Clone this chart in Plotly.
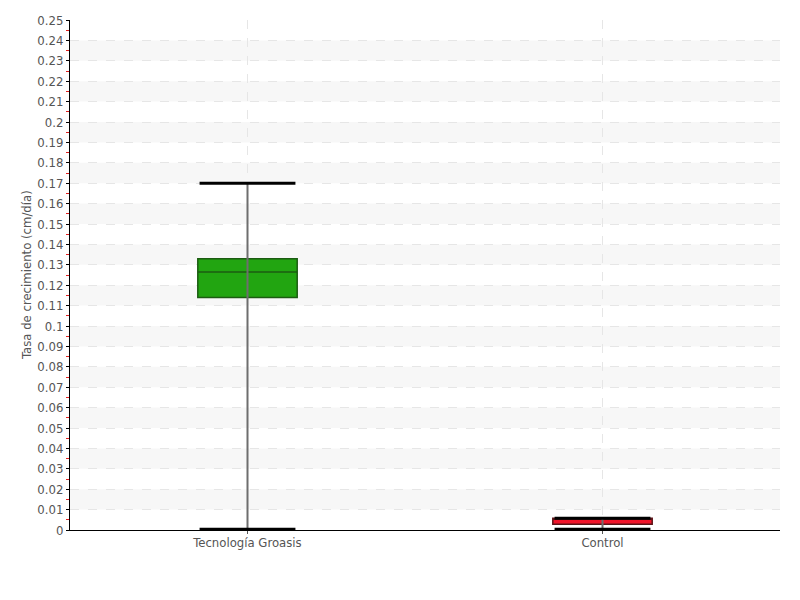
import plotly.graph_objects as go

categories = ["Tecnología Groasis", "Control"]
lower_fence = [0.0004, 0.0004]
q1 = [0.114, 0.0028]
median = [0.1265, 0.0058]
q3 = [0.133, 0.0058]
upper_fence = [0.17, 0.0058]
fill_colors = ["#22a511", "#f0142a"]
line_colors = ["#1c5c12", "#5c1418"]

y_ticks = [round(i * 0.01, 2) for i in range(0, 26)]
y_ticktext = ["0" if v == 0 else ("%g" % v) for v in y_ticks]

FONT = "DejaVu Sans Condensed, Liberation Sans Narrow, sans-serif"
TXT = "#555555"

fig = go.Figure()
xs = list(range(len(categories)))

# whisker stems
for i in xs:
    fig.add_trace(go.Scatter(
        x=[i, i], y=[lower_fence[i], upper_fence[i]], mode="lines",
        line=dict(color="#6e6e6e", width=2), showlegend=False, hoverinfo="skip"))

# caps (drawn beneath the boxes)
for i in xs:
    for v in (lower_fence[i], upper_fence[i]):
        fig.add_trace(go.Scatter(
            x=[i - 0.135, i + 0.135], y=[v, v], mode="lines",
            line=dict(color="black", width=3), showlegend=False, hoverinfo="skip"))

# boxes
for i in xs:
    fig.add_trace(go.Box(
        x=[i], q1=[q1[i]], median=[median[i]], q3=[q3[i]],
        lowerfence=[q1[i]], upperfence=[q3[i]],
        width=0.28, fillcolor=fill_colors[i],
        line=dict(color=line_colors[i], width=1.5),
        whiskerwidth=0, showlegend=False, name=categories[i]))

# alternating bands
for k in range(1, len(y_ticks) - 1, 2):
    fig.add_shape(type="rect", xref="paper", yref="y", x0=0, x1=1,
                  y0=y_ticks[k], y1=y_ticks[k + 1],
                  fillcolor="#f7f7f7", line=dict(width=0), layer="below")

fig.add_annotation(
    text="Tasa de crecimiento (cm/día)", textangle=-90,
    xref="paper", yref="paper", x=0, y=0.5, xanchor="center", yanchor="middle",
    xshift=-44, showarrow=False, font=dict(family=FONT, size=13, color=TXT))

fig.update_layout(
    width=800, height=600,
    margin=dict(l=62, r=28, t=12, b=78),
    paper_bgcolor="white", plot_bgcolor="white",
    font=dict(family=FONT, size=13, color=TXT),
    boxmode="overlay",
    xaxis=dict(
        range=[-0.5, 1.5], tickmode="array", tickvals=xs, ticktext=categories,
        showgrid=True, gridcolor="#e6e6e6", griddash="dash", gridwidth=1,
        zeroline=False, showline=True, linecolor="black", linewidth=1,
        ticks="outside", ticklen=3, tickcolor=TXT, automargin=False,
        ticklabelstandoff=-3,
        tickfont=dict(family=FONT, size=13, color=TXT),
    ),
    yaxis=dict(
        range=[0, 0.25], tickmode="array", tickvals=y_ticks, ticktext=y_ticktext,
        showgrid=True, gridcolor="#e6e6e6", griddash="dash", gridwidth=1,
        zeroline=False, showline=True, linecolor="black", linewidth=1,
        ticks="outside", ticklen=3, tickcolor="black", automargin=False,
        tickfont=dict(family=FONT, size=13, color=TXT),
        minor=dict(dtick=0.005, tick0=0.005, ticks="outside", ticklen=3, tickcolor="#e02020", showgrid=False),
    ),
)

fig.write_html("out.html")
